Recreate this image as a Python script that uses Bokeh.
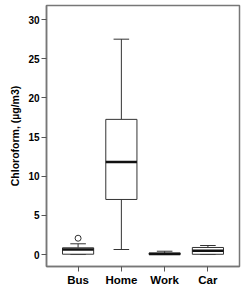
from bokeh.plotting import figure
from bokeh.models import Range1d, FixedTicker
from bokeh.embed import file_html
from bokeh.resources import INLINE

categories = ["Bus", "Home", "Work", "Car"]
whisker_low = [0.0, 0.64, 0.0, 0.0]
q1 = [0.04, 7.03, 0.0, 0.03]
median = [0.64, 11.8, 0.08, 0.47]
q3 = [0.86, 17.26, 0.2, 0.9]
whisker_high = [1.37, 27.5, 0.42, 1.15]
outlier_cat = [0]
outlier_val = [2.08]
y_ticks = [0, 5, 10, 15, 20, 25, 30]

xs = list(range(len(categories)))
bw = 0.72
cw = 0.36

p = figure(width=245, height=292, output_backend="svg", toolbar_location=None,
           x_range=Range1d(-0.73, 3.73), y_range=Range1d(-1.53, 31.8),
           min_border_left=46, min_border_right=6, min_border_top=5, min_border_bottom=26)
p.xgrid.visible = False
p.ygrid.visible = False
p.outline_line_color = "#777777"
p.outline_line_width = 1.5

lc = "#333333"
# whiskers
p.segment(x0=xs, x1=xs, y0=q3, y1=whisker_high, line_color=lc, line_width=1)
p.segment(x0=xs, x1=xs, y0=whisker_low, y1=q1, line_color=lc, line_width=1)
p.segment(x0=[x - cw / 2 for x in xs], x1=[x + cw / 2 for x in xs],
          y0=whisker_high, y1=whisker_high, line_color=lc, line_width=1)
p.segment(x0=[x - cw / 2 for x in xs], x1=[x + cw / 2 for x in xs],
          y0=whisker_low, y1=whisker_low, line_color=lc, line_width=1)
# boxes
p.vbar(x=xs, width=bw, bottom=q1, top=q3, fill_color="white", line_color=lc, line_width=1)
# medians
p.segment(x0=[x - bw / 2 for x in xs], x1=[x + bw / 2 for x in xs],
          y0=median, y1=median, line_color="#111111", line_width=2.5)
# outliers
p.scatter(x=outlier_cat, y=outlier_val, marker="circle", size=6,
          fill_color="white", line_color=lc, line_width=1)

p.xaxis.ticker = FixedTicker(ticks=xs)
p.xaxis.major_label_overrides = {i: c for i, c in enumerate(categories)}
p.yaxis.ticker = FixedTicker(ticks=y_ticks)
p.yaxis.axis_label = "Chloroform, (µg/m3)"

for ax in (p.xaxis[0], p.yaxis[0]):
    ax.axis_line_color = "#777777"
    ax.axis_line_width = 1.5
    ax.major_tick_line_color = "#555555"
    ax.major_tick_in = 0
    ax.major_tick_out = 5
    ax.minor_tick_line_color = None
    ax.major_label_text_font = "Liberation Sans"
    ax.major_label_text_font_style = "bold"
    ax.major_label_text_color = "black"

p.yaxis.major_label_text_font_size = "10px"
p.xaxis.major_label_text_font_size = "11.5px"
p.yaxis.major_label_standoff = 2
p.xaxis.major_label_standoff = 2
p.yaxis.axis_label_text_font = "Liberation Sans"
p.yaxis.axis_label_text_font_style = "bold"
p.yaxis.axis_label_text_font_size = "10.5px"
p.yaxis.axis_label_text_color = "black"
p.yaxis.axis_label_standoff = 4

open("out.html", "w").write(file_html(p, INLINE))
